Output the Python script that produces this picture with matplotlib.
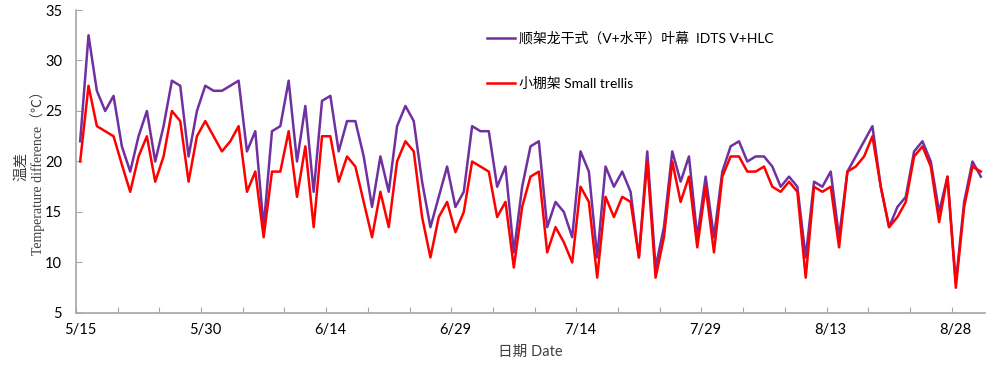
import matplotlib
matplotlib.use("Agg")
import matplotlib.pyplot as plt
import pandas as pd

# ---- data ----
start_date = "2020-05-15"
n_days = 109
idts_vhlc = [22, 32.5, 27, 25, 26.5, 21.5, 19, 22.5, 25, 20,
             23.5, 28, 27.5, 20.5, 25, 27.5, 27, 27, 27.5, 28,
             21, 23, 13.5, 23, 23.5, 28, 20, 25.5, 17, 26,
             26.5, 21, 24, 24, 20.5, 15.5, 20.5, 17, 23.5, 25.5,
             24, 18, 13.5, 16.5, 19.5, 15.5, 17, 23.5, 23, 23,
             17.5, 19.5, 11, 17.5, 21.5, 22, 13.5, 16, 15, 12.5,
             21, 19, 10.5, 19.5, 17.5, 19, 17, 10.5, 21, 9.5,
             13.5, 21, 18, 20.5, 12.5, 18.5, 12.5, 19, 21.5, 22,
             20, 20.5, 20.5, 19.5, 17.5, 18.5, 17.5, 10.5, 18, 17.5,
             19, 12.5, 19, 20.5, 22, 23.5, 17.5, 13.5, 15.5, 16.5,
             21, 22, 20, 15, 18.5, 8, 16, 20, 18.5]
small_trellis = [20, 27.5, 23.5, 23, 22.5, 19.7, 17, 20.5, 22.5, 18,
                 20.5, 25, 24, 18, 22.5, 24, 22.5, 21, 22, 23.5,
                 17, 19, 12.5, 19, 19, 23, 16.5, 21.5, 13.5, 22.5,
                 22.5, 18, 20.5, 19.5, 16, 12.5, 17, 13.5, 20, 22,
                 21, 14.5, 10.5, 14.5, 16, 13, 15, 20, 19.5, 19,
                 14.5, 16, 9.5, 15.5, 18.5, 19, 11, 13.5, 12, 10,
                 17.5, 16, 8.5, 16.5, 14.5, 16.5, 16, 10.5, 20, 8.5,
                 12.5, 20, 16, 18.5, 11.5, 17.5, 11, 18.5, 20.5, 20.5,
                 19, 19, 19.5, 17.5, 17, 18, 17, 8.5, 17.5, 17,
                 17.5, 11.5, 19, 19.5, 20.5, 22.5, 17.5, 13.5, 14.5, 16,
                 20.5, 21.5, 19.5, 14, 18.5, 7.5, 15.5, 19.5, 19]
series_labels = ["顺架龙干式（V+水平）叶幕  IDTS V+HLC", "小棚架 Small trellis"]
label_every = 15
tick_every = 5

dates = pd.date_range(start_date, periods=n_days, freq="D")
cats = [f"{d.month}/{d.day}" for d in dates]

# ---- plot ----
plt.rcParams['font.family'] = ['Lato', 'Noto Sans CJK SC', 'DejaVu Sans']
fig = plt.figure(figsize=(10, 3.65), dpi=100)
ax = fig.add_axes([0.076, 0.1425, 0.909, 0.8301])

x = list(range(n_days))
ax.plot(x, idts_vhlc, color='#7030A0', lw=1.8, label=series_labels[0])
ax.plot(x, small_trellis, color='#FF0000', lw=1.8, label=series_labels[1])

ax.set_xlim(-0.5, n_days - 0.5)
ax.set_ylim(5, 35)
ax.set_yticks(range(5, 36, 5))

ax.set_xticks([i - 0.5 for i in range(0, n_days + 1, tick_every)])
ax.set_xticklabels([])
ax.set_xticks(list(range(0, n_days, label_every)), minor=True)
ax.set_xticklabels([cats[i] for i in range(0, n_days, label_every)], minor=True)

for s in ['top', 'right']:
    ax.spines[s].set_visible(False)
for s in ['left', 'bottom']:
    ax.spines[s].set_color('#A6A6A6')
    ax.spines[s].set_linewidth(1.2)

ax.tick_params(axis='y', which='major', direction='in', length=4, color='#A6A6A6',
               labelsize=10.5, pad=10, labelcolor='#000000')
ax.tick_params(axis='x', which='major', direction='in', length=4, color='#A6A6A6')
ax.tick_params(axis='x', which='minor', length=0, labelsize=10.5, pad=7, labelcolor='#000000')

fig.text(0.53, 0.035, "日期 Date", ha='center', va='center', fontsize=10.5, color='#404040')
fig.text(0.021, 0.545, "温差", rotation=90, ha='center', va='center', fontsize=10.5,
         color='#404040', family=['Noto Sans CJK SC'])
fig.text(0.038, 0.535, "Temperature difference（℃）", rotation=90, ha='center', va='center',
         fontsize=10, color='#404040', family=['Liberation Serif', 'Noto Sans CJK SC', 'DejaVu Sans'])

ax.legend(loc='upper left', bbox_to_anchor=(0.487, 0.914), bbox_transform=fig.transFigure,
          frameon=False, fontsize=10, handlelength=2.0, handletextpad=0.3,
          labelspacing=2.3, borderpad=0, borderaxespad=0)

fig.savefig("out.png", dpi=100)
